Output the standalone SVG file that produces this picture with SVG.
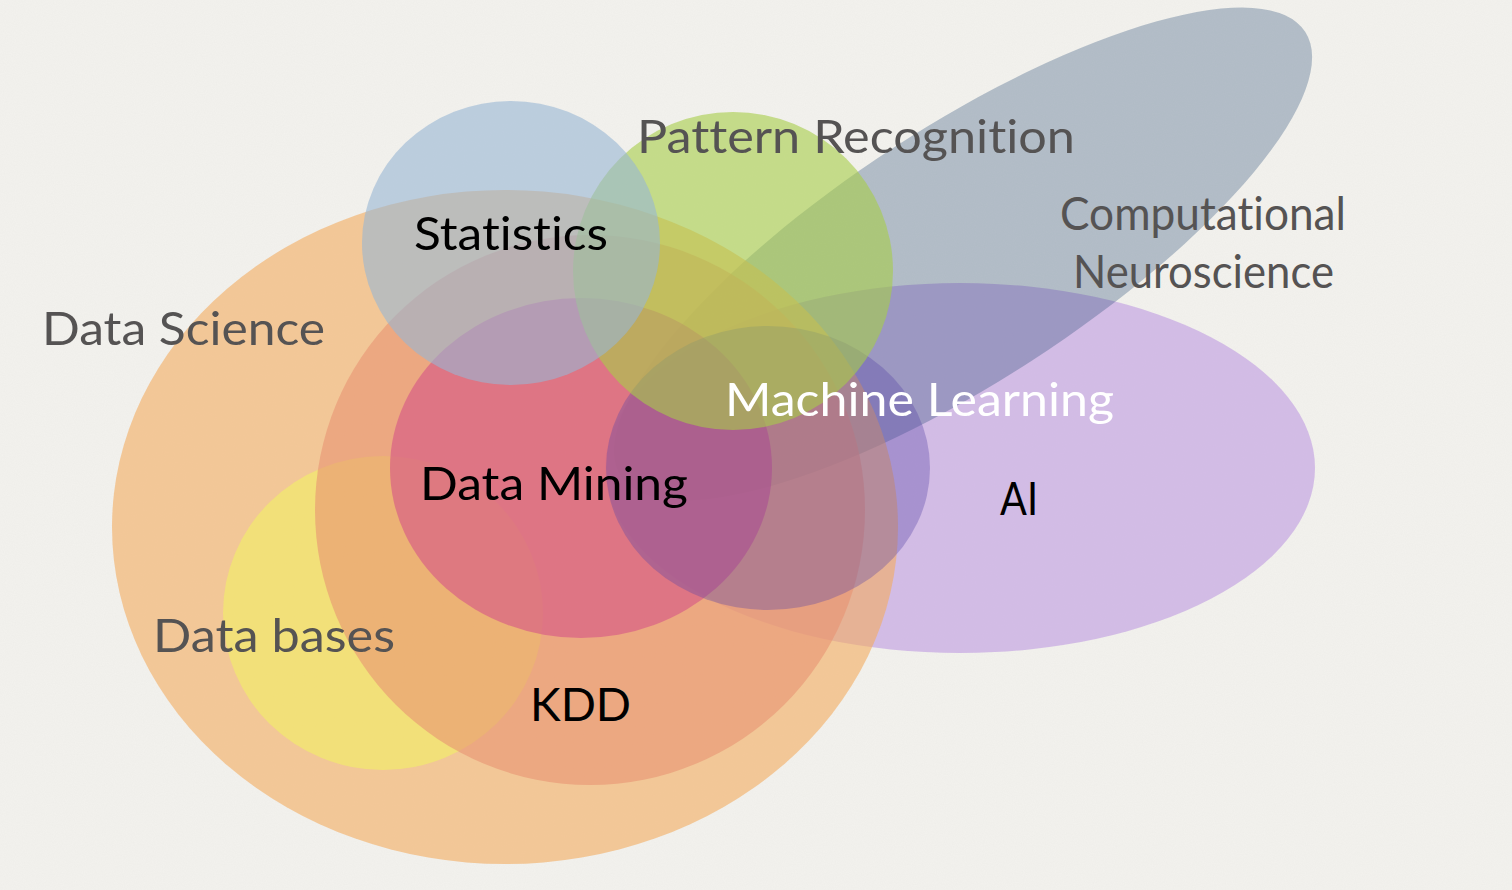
<svg xmlns="http://www.w3.org/2000/svg" width="1512" height="890" viewBox="0 0 1512 890">
<defs>
<filter id="paper" x="0" y="0" width="100%" height="100%">
<feTurbulence type="fractalNoise" baseFrequency="0.9" numOctaves="2" seed="3" result="n"/>
<feColorMatrix in="n" type="matrix" values="0 0 0 0 0.45  0 0 0 0 0.45  0 0 0 0 0.42  0 0 0 0.07 0"/>
</filter>
</defs>
<style>
.lbl{font-family:"Lato","Noto Sans","Liberation Sans",sans-serif;font-size:47px;font-variant-ligatures:none;font-feature-settings:"liga" 0,"clig" 0}
.grey{fill:#555353}
.black{fill:#000000}
.white{fill:#ffffff}
</style>
<rect x="0" y="0" width="1512" height="890" fill="#f3f2ee"/>
<rect x="0" y="0" width="1512" height="890" filter="url(#paper)"/>
<g id="node-ai"><ellipse cx="960" cy="468" rx="355" ry="185" fill="#be9ae1" fill-opacity="0.6"/></g>
<g id="node-cn"><ellipse cx="963" cy="254" rx="408" ry="127" transform="rotate(-33 963 254)" fill="#21456f" fill-opacity="0.3"/></g>
<g id="node-ds"><ellipse cx="505" cy="527" rx="393" ry="337" fill="#f3ac5f" fill-opacity="0.6"/></g>
<g id="node-db"><ellipse cx="383" cy="613" rx="160" ry="157" fill="#f1f066" fill-opacity="0.6"/></g>
<g id="node-kdd"><ellipse cx="590" cy="510" rx="275" ry="275" fill="#e79373" fill-opacity="0.6"/></g>
<g id="node-dm"><ellipse cx="581" cy="468" rx="191" ry="170" fill="#d55387" fill-opacity="0.6"/></g>
<g id="node-ml"><ellipse cx="768" cy="468" rx="162" ry="142" fill="#5a46a5" fill-opacity="0.35"/></g>
<g id="node-pr"><ellipse cx="733" cy="271" rx="160" ry="159" fill="#a6cd47" fill-opacity="0.6"/></g>
<g id="node-stats"><ellipse cx="511" cy="243" rx="149" ry="142" fill="#97b6d3" fill-opacity="0.6"/></g>
<g id="labels">
<text id="label-pr" class="lbl grey" x="637" y="153" textLength="438" lengthAdjust="spacingAndGlyphs">Pattern Recognition</text>
<text id="label-stats" class="lbl black" x="414" y="250" textLength="194" lengthAdjust="spacingAndGlyphs">Statistics</text>
<text id="label-cn1" class="lbl grey" x="1060" y="230" textLength="286" lengthAdjust="spacingAndGlyphs">Computational</text>
<text id="label-cn2" class="lbl grey" x="1073" y="288" textLength="261" lengthAdjust="spacingAndGlyphs">Neuroscience</text>
<text id="label-ds" class="lbl grey" x="42" y="345" textLength="283" lengthAdjust="spacingAndGlyphs">Data Science</text>
<text id="label-ml" class="lbl white" x="725" y="416" textLength="389" lengthAdjust="spacingAndGlyphs">Machine Learning</text>
<text id="label-dm" class="lbl black" x="420" y="500" textLength="268" lengthAdjust="spacingAndGlyphs">Data Mining</text>
<text id="label-ai" class="lbl black" x="1000" y="515" textLength="38" lengthAdjust="spacingAndGlyphs">AI</text>
<text id="label-db" class="lbl grey" x="153" y="652" textLength="242" lengthAdjust="spacingAndGlyphs">Data bases</text>
<text id="label-kdd" class="lbl black" x="530" y="721" textLength="101" lengthAdjust="spacingAndGlyphs">KDD</text>
</g>
</svg>
